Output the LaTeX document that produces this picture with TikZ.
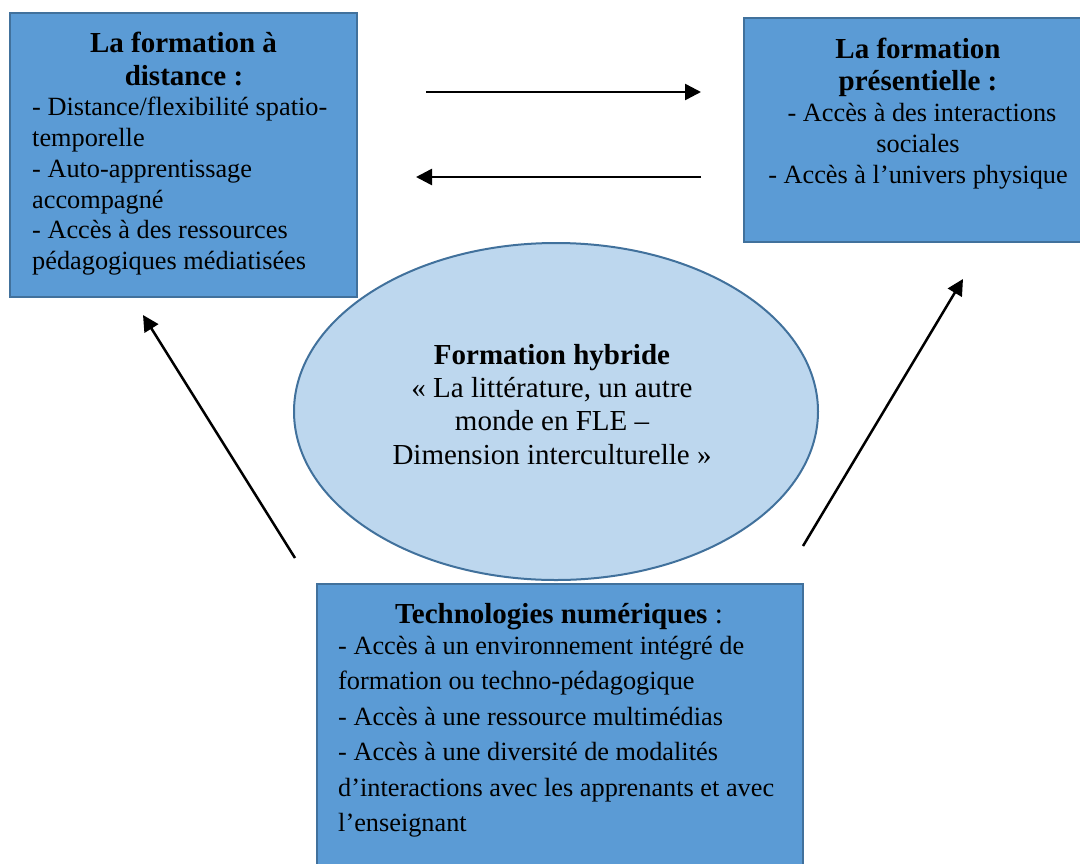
\documentclass[tikz,border=0pt]{standalone}
\usepackage{fontspec}
\setmainfont{Liberation Serif}
\usetikzlibrary{arrows.meta,shapes.geometric}
\definecolor{boxfill}{HTML}{5B9BD5}
\definecolor{boxline}{HTML}{41719C}
\definecolor{ellfill}{HTML}{BDD7EE}
\tikzset{
  panel/.style={draw=boxline, fill=boxfill, line width=2pt, rectangle, inner sep=0pt},
  hub/.style={draw=boxline, fill=ellfill, line width=2pt, ellipse, inner sep=0pt,
              minimum width=524pt, minimum height=337pt},
  txt/.style={inner sep=0pt, font=\fontsize{26.3}{31}\selectfont},
  bigtxt/.style={inner sep=0pt, font=\fontsize{29}{33}\selectfont},
  ttl/.style={inner sep=0pt, font=\fontsize{29}{33}\selectfont\bfseries},
  link/.style={line width=2.5pt, -{Triangle[length=16pt,width=16pt]}}
}
\begin{document}
\begin{tikzpicture}[x=1pt,y=-1pt]
\useasboundingbox (0,0) rectangle (1080,863);
\fill[white] (0,0) rectangle (1080,863);

% hybrid ellipse
\node[hub] (hyb) at (556,411.5) {};
\node[ttl, anchor=base] (h1) at (552,364) {Formation hybride};
\node[bigtxt, anchor=base] (h2) at (552,397) {« La littérature, un autre};
\node[bigtxt, anchor=base] (h3) at (552,430) {monde en FLE –};
\node[bigtxt, anchor=base] (h4) at (552,464) {Dimension interculturelle »};

% left box
\node[panel, minimum width=347pt, minimum height=284pt] (dist) at (183.5,155) {};
\node[ttl, anchor=base] (d1) at (183.5,52) {La formation à};
\node[ttl, anchor=base] (d2) at (184,85) {distance :};
\node[txt, anchor=base west] (d3) at (32,115) {- Distance/flexibilité spatio-};
\node[txt, anchor=base west] (d4) at (32,146) {temporelle};
\node[txt, anchor=base west] (d5) at (32,177) {- Auto-apprentissage};
\node[txt, anchor=base west] (d6) at (32,208) {accompagné};
\node[txt, anchor=base west] (d7) at (32,238.5) {- Accès à des ressources};
\node[txt, anchor=base west] (d8) at (32,269) {pédagogiques médiatisées};

% right box
\node[panel, minimum width=340pt, minimum height=224pt] (pres) at (914,130) {};
\node[ttl, anchor=base] (p1) at (918,58.5) {La formation};
\node[ttl, anchor=base] (p2) at (918,90.5) {présentielle :};
\node[txt, anchor=base] (p3) at (922,121) {- Accès à des interactions};
\node[txt, anchor=base] (p4) at (918,152.5) {sociales};
\node[txt, anchor=base] (p5) at (918,183.5) {- Accès à l’univers physique};

% bottom box
\node[panel, minimum width=486pt, minimum height=284pt] (tech) at (560,726) {};
\node[bigtxt, anchor=base] (t1) at (559,623.5) {\textbf{Technologies numériques} :};
\node[txt, anchor=base west] (t2) at (338,654) {- Accès à un environnement intégré de};
\node[txt, anchor=base west] (t3) at (338,689.5) {formation ou techno-pédagogique};
\node[txt, anchor=base west] (t4) at (338,725) {- Accès à une ressource multimédias};
\node[txt, anchor=base west] (t5) at (338,760.5) {- Accès à une diversité de modalités};
\node[txt, anchor=base west] (t6) at (338,796) {d’interactions avec les apprenants et avec};
\node[txt, anchor=base west] (t7) at (338,831) {l’enseignant};

% connector end points
\coordinate (a1s) at (426,92);
\coordinate (a1e) at (701,92);
\coordinate (a2s) at (701,177);
\coordinate (a2e) at (416,177);
\coordinate (a3s) at (295,558);
\coordinate (a3e) at (143,315);
\coordinate (a4s) at (803,546);
\coordinate (a4e) at (963,279);

\draw[link] (a1s) -- (a1e);
\draw[link] (a2s) -- (a2e);
\draw[link] (a3s) -- (a3e);
\draw[link] (a4s) -- (a4e);
\end{tikzpicture}
\end{document}
